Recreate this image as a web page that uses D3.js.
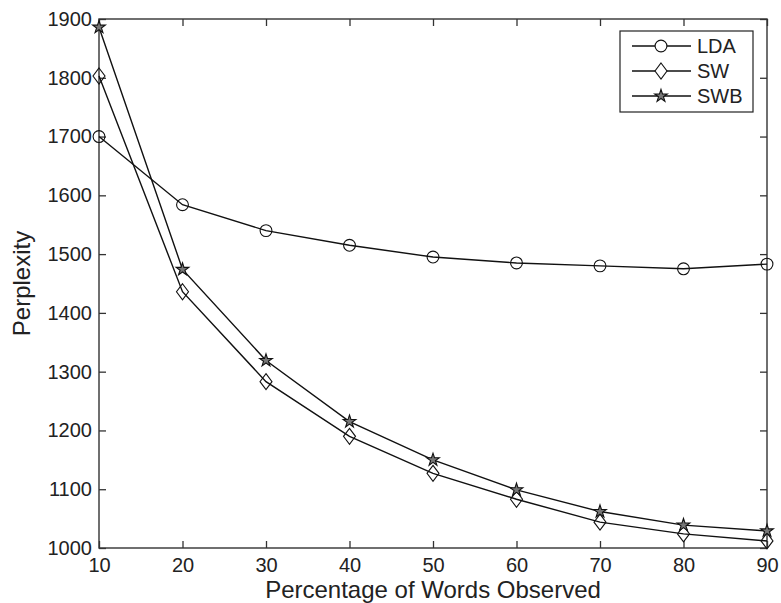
<!DOCTYPE html>
<html>
<head>
<meta charset="utf-8">
<script src="https://cdn.jsdelivr.net/npm/d3@7"></script>
<style>
  html, body { margin: 0; padding: 0; background: #fff; }
  svg { display: block; }
  text { font-family: "Liberation Sans", Arial, Helvetica, sans-serif; fill: #222; }
</style>
</head>
<body>
<svg id="chart" width="781" height="603"></svg>
<script>
// ---- data ----
const xValues = [10, 20, 30, 40, 50, 60, 70, 80, 90];
const ldaValues = [1700, 1584, 1540, 1515, 1495, 1485, 1480, 1475, 1483];
const swValues  = [1803, 1436, 1283, 1190, 1127, 1083, 1044, 1024, 1012];
const swbValues = [1886, 1474, 1319, 1215, 1150, 1099, 1062, 1039, 1029];
const seriesNames = ["LDA", "SW", "SWB"];
const seriesMarkers = ["circle", "diamond", "star"];
const xTicks = [10, 20, 30, 40, 50, 60, 70, 80, 90];
const yTicks = [1000, 1100, 1200, 1300, 1400, 1500, 1600, 1700, 1800, 1900];
const xTitle = "Percentage of Words Observed";
const yTitle = "Perplexity";

const series = [ldaValues, swValues, swbValues].map((vals, i) => ({
  name: seriesNames[i], marker: seriesMarkers[i],
  points: vals.map((v, j) => ({ x: xValues[j], y: v }))
}));

// ---- layout ----
const svg = d3.select("#chart");
const L = 99, R = 767, T = 19, B = 548;
const x = d3.scaleLinear().domain([10, 90]).range([L, R]);
const y = d3.scaleLinear().domain([1000, 1900]).range([B, T]);
const axisColor = "#333";
const fontSize = 20;

// frame
svg.append("rect").attr("x", L).attr("y", T).attr("width", R - L).attr("height", B - T)
  .attr("fill", "none").attr("stroke", axisColor).attr("stroke-width", 1.4);

function styleAxis(g, labels) {
  g.select(".domain").remove();
  g.selectAll(".tick line").attr("stroke", axisColor).attr("stroke-width", 1.3);
  if (!labels) g.selectAll(".tick text").remove();
  else g.selectAll(".tick text").attr("font-size", fontSize).attr("fill", "#222")
        .style("font-family", "'Liberation Sans', Arial, sans-serif");
}

svg.append("g").attr("transform", `translate(0,${B})`)
  .call(d3.axisBottom(x).tickValues(xTicks).tickSizeInner(-7).tickSizeOuter(0).tickPadding(10).tickFormat(d3.format("d")))
  .call(g => styleAxis(g, true));
svg.append("g").attr("transform", `translate(0,${T})`)
  .call(d3.axisTop(x).tickValues(xTicks).tickSizeInner(-7).tickSizeOuter(0))
  .call(g => styleAxis(g, false));
svg.append("g").attr("transform", `translate(${L},0)`)
  .call(d3.axisLeft(y).tickValues(yTicks).tickSizeInner(-7).tickSizeOuter(0).tickPadding(7).tickFormat(d3.format("d")))
  .call(g => styleAxis(g, true));
svg.append("g").attr("transform", `translate(${R},0)`)
  .call(d3.axisRight(y).tickValues(yTicks).tickSizeInner(-7).tickSizeOuter(0))
  .call(g => styleAxis(g, false));

// titles
svg.append("text").attr("x", (L + R) / 2).attr("y", 598).attr("text-anchor", "middle")
  .attr("font-size", 24).text(xTitle);
svg.append("text").attr("transform", `translate(30,${(T + B) / 2}) rotate(-90)`)
  .attr("text-anchor", "middle").attr("font-size", 24).text(yTitle);

// markers
function markerPath(type) {
  if (type === "circle") return d3.symbol(d3.symbolCircle, 110)();
  if (type === "diamond") return "M0,-8L6,0L0,8L-6,0Z";
  return d3.symbol(d3.symbolStar, 50)();
}

const line = d3.line().x(d => x(d.x)).y(d => y(d.y));
const plot = svg.append("g");
series.forEach(s => {
  plot.append("path").datum(s.points).attr("d", line)
    .attr("fill", "none").attr("stroke", "#111").attr("stroke-width", 1.4);
  plot.selectAll(null).data(s.points).enter().append("path")
    .attr("transform", d => `translate(${x(d.x)},${y(d.y)})`)
    .attr("d", markerPath(s.marker))
    .attr("fill", s.marker === "star" ? "#777" : "none")
    .attr("stroke", "#111").attr("stroke-width", 1.1);
});

// legend
const lg = svg.append("g");
lg.append("rect").attr("x", 620).attr("y", 31).attr("width", 133).attr("height", 81)
  .attr("fill", "#fff").attr("stroke", "#222").attr("stroke-width", 1.2);
series.forEach((s, i) => {
  const ly = 46 + i * 25;
  lg.append("line").attr("x1", 632).attr("x2", 691).attr("y1", ly).attr("y2", ly)
    .attr("stroke", "#111").attr("stroke-width", 1.3);
  lg.append("path").attr("transform", `translate(661,${ly})`).attr("d", markerPath(s.marker))
    .attr("fill", s.marker === "star" ? "#777" : "#fff").attr("stroke", "#111").attr("stroke-width", 1.1);
  lg.append("text").attr("x", 697).attr("y", ly + 7).attr("font-size", fontSize).text(s.name);
});
</script>
</body>
</html>
